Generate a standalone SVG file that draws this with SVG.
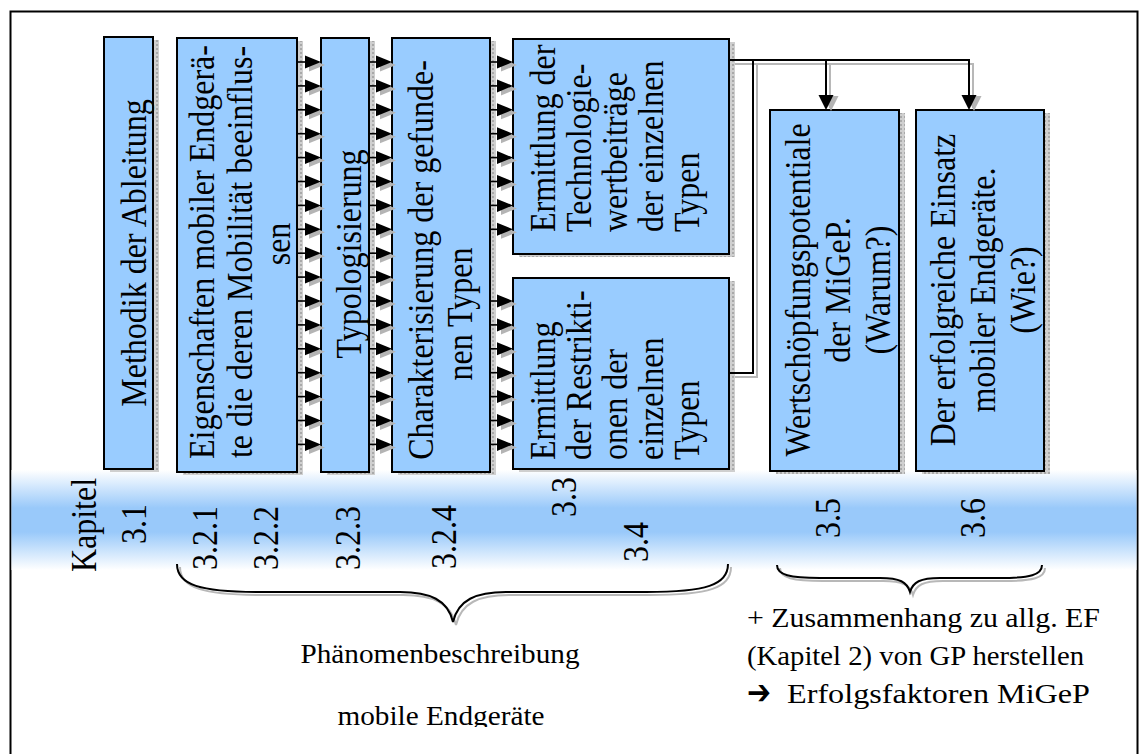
<svg xmlns="http://www.w3.org/2000/svg" xmlns:xlink="http://www.w3.org/1999/xlink" width="1143" height="754" viewBox="0 0 1143 754">
<defs>
<style>
.t{font-family:"Liberation Serif","Times New Roman",serif;font-size:32px;fill:#000}
.h{font-family:"Liberation Serif","Times New Roman",serif;font-size:28px;fill:#000}
.box{fill:#99ccff;stroke:#000;stroke-width:2}
.sh{fill:url(#pat)}
.ln{fill:none;stroke:#000;stroke-width:2}
.lns{fill:none;stroke:#b8b8b8;stroke-width:2}
</style>
<pattern id="pat" width="4" height="4" patternUnits="userSpaceOnUse">
<rect width="4" height="4" fill="#cfcfcf"/>
<rect width="2" height="2" fill="#a9a9a9"/>
</pattern>
<linearGradient id="band" x1="0" y1="470" x2="0" y2="570" gradientUnits="userSpaceOnUse">
<stop offset="0" stop-color="#ffffff"/>
<stop offset="0.38" stop-color="#99c9fa"/>
<stop offset="0.62" stop-color="#99c9fa"/>
<stop offset="1" stop-color="#ffffff"/>
</linearGradient>
<clipPath id="clipTxt"><rect x="0" y="0" width="1143" height="727"/></clipPath>
<g id="arr">
<polygon points="-12,-3.5 4,3 -12,9.5" fill="#b4b4b4"/>
<line x1="-24" y1="0" x2="-14" y2="0" stroke="#000" stroke-width="1.6"/>
<polygon points="-16,-6.5 0,0 -16,6.5" fill="#000"/>
</g>
</defs>

<rect x="0" y="0" width="1143" height="754" fill="#fff"/>
<rect x="10.5" y="11.5" width="1127" height="760" fill="none" stroke="#000" stroke-width="2"/>

<rect id="band-bg" x="11.5" y="470" width="1125" height="100" fill="url(#band)"/>

<g id="node-methodik">
<rect class="sh" x="110" y="40" width="49" height="432"/>
<rect class="box" x="104" y="37" width="49" height="432"/>
<text class="t" text-anchor="middle" transform="matrix(0,-1,1.15,0,146,253)">Methodik der Ableitung</text>
</g>

<g id="node-eigenschaften">
<rect class="sh" x="183" y="41" width="120" height="434"/>
<rect class="box" x="177" y="38" width="120" height="434"/>
<text class="t" text-anchor="middle" transform="matrix(0,-1,1.15,0,214,252)">Eigenschaften mobiler Endgerä-</text>
<text class="t" text-anchor="middle" transform="matrix(0,-1,1.15,0,252,252)">te die deren Mobilität beeinflus-</text>
<text class="t" text-anchor="middle" transform="matrix(0,-1,1.15,0,290,244)">sen</text>
</g>

<g id="node-typologisierung">
<rect class="sh" x="327" y="41" width="48" height="434"/>
<rect class="box" x="321" y="38" width="48" height="434"/>
<text class="t" text-anchor="middle" transform="matrix(0,-1,1.15,0,361,254)">Typologisierung</text>
</g>

<g id="node-charakterisierung">
<rect class="sh" x="398" y="41" width="98" height="434"/>
<rect class="box" x="392" y="38" width="98" height="434"/>
<text class="t" text-anchor="middle" transform="matrix(0,-1,1.15,0,433,260)">Charakterisierung der gefunde-</text>
<text class="t" text-anchor="middle" transform="matrix(0,-1,1.15,0,472,314)">nen Typen</text>
</g>

<g id="node-technologie">
<rect class="sh" x="519" y="42" width="216" height="215"/>
<rect class="box" x="513" y="39" width="216" height="215"/>
<text class="t" transform="matrix(0,-1,1.15,0,555,232)">Ermittlung der</text>
<text class="t" transform="matrix(0,-1,1.15,0,591,232)">Technologie-</text>
<text class="t" transform="matrix(0,-1,1.15,0,627,232)">wertbeiträge</text>
<text class="t" transform="matrix(0,-1,1.15,0,663,232)">der einzelnen</text>
<text class="t" transform="matrix(0,-1,1.15,0,699,232)">Typen</text>
</g>

<g id="node-restriktionen">
<rect class="sh" x="519" y="281" width="216" height="191"/>
<rect class="box" x="513" y="278" width="216" height="191"/>
<text class="t" transform="matrix(0,-1,1.15,0,555,460)">Ermittlung</text>
<text class="t" transform="matrix(0,-1,1.15,0,591,460)">der Restrikti-</text>
<text class="t" transform="matrix(0,-1,1.15,0,627,460)">onen der</text>
<text class="t" transform="matrix(0,-1,1.15,0,663,460)">einzelnen</text>
<text class="t" transform="matrix(0,-1,1.15,0,699,460)">Typen</text>
</g>

<g id="node-wertschoepfung">
<rect class="sh" x="776" y="113" width="129" height="361"/>
<rect class="box" x="770" y="110" width="129" height="361"/>
<text class="t" text-anchor="middle" transform="matrix(0,-1,1.15,0,810,290)">Wertschöpfungspotentiale</text>
<text class="t" text-anchor="middle" transform="matrix(0,-1,1.15,0,850,290)">der MiGeP.</text>
<text class="t" text-anchor="middle" transform="matrix(0,-1,1.15,0,890,290)">(Warum?)</text>
</g>

<g id="node-einsatz">
<rect class="sh" x="922" y="113" width="128" height="361"/>
<rect class="box" x="916" y="110" width="128" height="361"/>
<text class="t" text-anchor="middle" transform="matrix(0,-1,1.15,0,955,290)">Der erfolgreiche Einsatz</text>
<text class="t" text-anchor="middle" transform="matrix(0,-1,1.15,0,995,290)">mobiler Endgeräte.</text>
<text class="t" text-anchor="middle" transform="matrix(0,-1,1.15,0,1035,290)">(Wie?)</text>
</g>

<g id="connectors">
<use xlink:href="#arr" x="321" y="62"/><use xlink:href="#arr" x="321" y="85.9"/><use xlink:href="#arr" x="321" y="109.8"/><use xlink:href="#arr" x="321" y="133.7"/><use xlink:href="#arr" x="321" y="157.6"/><use xlink:href="#arr" x="321" y="181.5"/><use xlink:href="#arr" x="321" y="205.4"/><use xlink:href="#arr" x="321" y="229.3"/><use xlink:href="#arr" x="321" y="253.2"/><use xlink:href="#arr" x="321" y="277.1"/><use xlink:href="#arr" x="321" y="301"/><use xlink:href="#arr" x="321" y="324.9"/><use xlink:href="#arr" x="321" y="348.8"/><use xlink:href="#arr" x="321" y="372.7"/><use xlink:href="#arr" x="321" y="396.6"/><use xlink:href="#arr" x="321" y="420.5"/><use xlink:href="#arr" x="321" y="444.4"/>
<use xlink:href="#arr" x="392" y="62"/><use xlink:href="#arr" x="392" y="85.9"/><use xlink:href="#arr" x="392" y="109.8"/><use xlink:href="#arr" x="392" y="133.7"/><use xlink:href="#arr" x="392" y="157.6"/><use xlink:href="#arr" x="392" y="181.5"/><use xlink:href="#arr" x="392" y="205.4"/><use xlink:href="#arr" x="392" y="229.3"/><use xlink:href="#arr" x="392" y="253.2"/><use xlink:href="#arr" x="392" y="277.1"/><use xlink:href="#arr" x="392" y="301"/><use xlink:href="#arr" x="392" y="324.9"/><use xlink:href="#arr" x="392" y="348.8"/><use xlink:href="#arr" x="392" y="372.7"/><use xlink:href="#arr" x="392" y="396.6"/><use xlink:href="#arr" x="392" y="420.5"/><use xlink:href="#arr" x="392" y="444.4"/>
<use xlink:href="#arr" x="513" y="62"/><use xlink:href="#arr" x="513" y="85.9"/><use xlink:href="#arr" x="513" y="109.8"/><use xlink:href="#arr" x="513" y="133.7"/><use xlink:href="#arr" x="513" y="157.6"/><use xlink:href="#arr" x="513" y="181.5"/><use xlink:href="#arr" x="513" y="205.4"/><use xlink:href="#arr" x="513" y="229.3"/><use xlink:href="#arr" x="513" y="301"/><use xlink:href="#arr" x="513" y="324.9"/><use xlink:href="#arr" x="513" y="348.8"/><use xlink:href="#arr" x="513" y="372.7"/><use xlink:href="#arr" x="513" y="396.6"/><use xlink:href="#arr" x="513" y="420.5"/><use xlink:href="#arr" x="513" y="444.4"/>
<path class="lns" d="M735,64 H973 V108 M830,64 V108 M735,377 H757 V64"/>
<path class="ln" d="M729,60 H969 V96 M826,60 V96 M729,373 H753 V60"/>
<polygon points="823.5,96 838.5,96 831,111" fill="#b4b4b4"/>
<polygon points="966.5,96 981.5,96 974,111" fill="#b4b4b4"/>
<polygon points="818.5,95 833.5,95 826,110" fill="#000"/>
<polygon points="961.5,95 976.5,95 969,110" fill="#000"/>
</g>

<g id="kapitel">
<text class="t" text-anchor="middle" transform="matrix(0,-1,1.15,0,96,525)">Kapitel</text>
<text class="t" text-anchor="middle" transform="matrix(0,-1,1.15,0,146,524)">3.1</text>
<text class="t" text-anchor="middle" transform="matrix(0,-1,1.15,0,217,538)">3.2.1</text>
<text class="t" text-anchor="middle" transform="matrix(0,-1,1.15,0,278,538)">3.2.2</text>
<text class="t" text-anchor="middle" transform="matrix(0,-1,1.15,0,360,538)">3.2.3</text>
<text class="t" text-anchor="middle" transform="matrix(0,-1,1.15,0,456,537)">3.2.4</text>
<text class="t" text-anchor="middle" transform="matrix(0,-1,1.15,0,576,497)">3.3</text>
<text class="t" text-anchor="middle" transform="matrix(0,-1,1.15,0,648,542)">3.4</text>
<text class="t" text-anchor="middle" transform="matrix(0,-1,1.15,0,840,518)">3.5</text>
<text class="t" text-anchor="middle" transform="matrix(0,-1,1.15,0,985,518)">3.6</text>
</g>

<g id="braces">
<path d="M180,567 C180,588 203,595 263,595 L403,595 C433,595 451,603 456,625 C461,603 479,595 509,595 L649,595 C709,595 731,588 731,567" fill="none" stroke="#b8b8b8" stroke-width="2"/>
<path d="M177,564 C177,585 200,592 260,592 L400,592 C430,592 448,600 453,622 C458,600 476,592 506,592 L646,592 C706,592 728,585 728,564" fill="none" stroke="#000" stroke-width="2"/>
<path d="M780,568 C780,578 793,581 823,581 L883,581 C903,581 910,585 913,595 C916,585 923,581 943,581 L1003,581 C1033,581 1045,578 1045,568" fill="none" stroke="#b8b8b8" stroke-width="2"/>
<path d="M777,565 C777,575 790,578 820,578 L880,578 C900,578 907,582 910,592 C913,582 920,578 940,578 L1000,578 C1030,578 1042,575 1042,565" fill="none" stroke="#000" stroke-width="2"/>
</g>

<g id="labels">
<text class="h" text-anchor="middle" x="440" y="663" textLength="279" lengthAdjust="spacingAndGlyphs">Phänomenbeschreibung</text>
<text class="h" text-anchor="middle" x="441" y="725" textLength="207" lengthAdjust="spacingAndGlyphs" clip-path="url(#clipTxt)">mobile Endgeräte</text>
<text class="h" x="747" y="627" textLength="353" lengthAdjust="spacingAndGlyphs">+ Zusammenhang zu allg. EF</text>
<text class="h" x="747" y="665" textLength="337" lengthAdjust="spacingAndGlyphs">(Kapitel 2) von GP herstellen</text>
<text x="747" y="704" textLength="24" lengthAdjust="spacingAndGlyphs" style="font-family:'DejaVu Sans',sans-serif;font-size:34px;font-weight:bold">➔</text>
<text class="h" x="787" y="703" textLength="303" lengthAdjust="spacingAndGlyphs">Erfolgsfaktoren MiGeP</text>
</g>
</svg>
